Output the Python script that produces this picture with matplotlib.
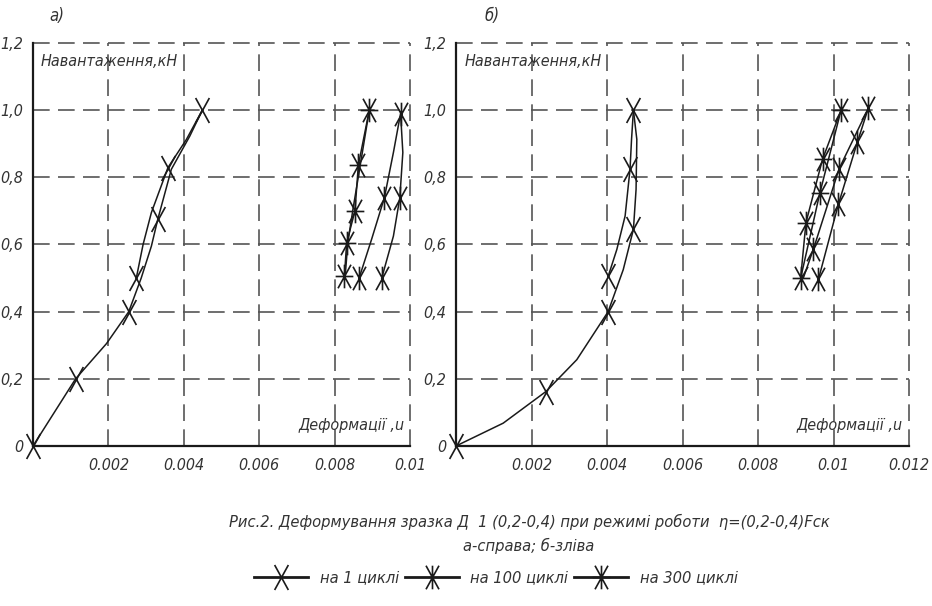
import numpy as np
import matplotlib
matplotlib.use('Agg')
import matplotlib.pyplot as plt
import matplotlib.font_manager as fm
from matplotlib.path import Path

# look for a narrow face (the original uses a condensed CAD font)
narrow = None
for f in fm.fontManager.ttflist:
    if 'Narrow' in f.name or 'Condensed' in f.name or f.stretch in ('condensed', 'semi-condensed'):
        narrow = f
        break
if narrow is not None:
    plt.rcParams['font.family'] = [narrow.name, 'DejaVu Sans']
    if not ('Narrow' in narrow.name or 'Condensed' in narrow.name):
        plt.rcParams['font.stretch'] = 'condensed'
    k = 1.0
else:
    plt.rcParams['font.family'] = ['Roboto', 'DejaVu Sans']
    k = 0.88
plt.rcParams['font.style'] = 'italic'

# Panel a) - справа
a1_load_x = [0, 0.00113, 0.00195, 0.00254, 0.00287, 0.00314, 0.00331, 0.00367, 0.00416, 0.00449]
a1_load_y = [0, 0.2, 0.305, 0.4, 0.5, 0.595, 0.675, 0.824, 0.923, 1.0]
a1_load_marks = [0, 1, 3, 6, 9]
a1_unload_x = [0.00449, 0.00407, 0.00358, 0.00314, 0.00292, 0.00274]
a1_unload_y = [1.0, 0.913, 0.829, 0.695, 0.60, 0.50]
a1_unload_marks = [2, 5]

a100_x = [0.00865, 0.00898, 0.00932, 0.00956, 0.00975, 0.00981, 0.00973, 0.00956, 0.00925]
a100_y = [0.50, 0.615, 0.739, 0.874, 0.99, 0.874, 0.739, 0.625, 0.50]
a100_marks = [0, 2, 4, 6, 8]

a300_load_x = [0.00826, 0.00832, 0.00854, 0.00863, 0.00892]
a300_load_y = [0.505, 0.605, 0.70, 0.836, 1.0]
a300_unload_x = [0.00892, 0.00868, 0.00848, 0.00835, 0.00828]
a300_unload_y = [1.0, 0.836, 0.70, 0.605, 0.505]

# Panel b) - зліва
b1_load_x = [0, 0.00125, 0.00238, 0.0032, 0.00403, 0.00443, 0.0047, 0.00477, 0.00479, 0.0047]
b1_load_y = [0, 0.068, 0.162, 0.257, 0.40, 0.525, 0.645, 0.764, 0.913, 1.0]
b1_load_marks = [0, 2, 4, 6, 9]
b1_unload_x = [0.0047, 0.00465, 0.00461, 0.00448, 0.00426, 0.00403]
b1_unload_y = [1.0, 0.913, 0.824, 0.685, 0.585, 0.505]
b1_unload_marks = [2, 5]

b100_load_x = [0.0096, 0.01013, 0.01063, 0.01092]
b100_load_y = [0.496, 0.72, 0.904, 1.005]
b100_unload_x = [0.01092, 0.01015, 0.00947, 0.0092]
b100_unload_y = [1.005, 0.826, 0.587, 0.5]

b300_load_x = [0.00913, 0.00927, 0.00971, 0.0102]
b300_load_y = [0.5, 0.665, 0.854, 1.0]
b300_unload_x = [0.0102, 0.00964, 0.00913]
b300_unload_y = [1.0, 0.754, 0.5]

y_ticks = [0, 0.2, 0.4, 0.6, 0.8, 1.0, 1.2]
y_labels = ['0', '0,2', '0,4', '0,6', '0,8', '1,0', '1,2']
xa_ticks = [0.002, 0.004, 0.006, 0.008, 0.01]
xa_labels = ['0.002', '0.004', '0.006', '0.008', '0.01']
xb_ticks = [0.002, 0.004, 0.006, 0.008, 0.01, 0.012]
xb_labels = ['0.002', '0.004', '0.006', '0.008', '0.01', '0.012']

legend_labels = ['на 1 циклі', 'на 100 циклі', 'на 300 циклі']

# markers drawn like the CAD symbols
C = Path.MOVETO; L = Path.LINETO
m1 = Path([(-0.55, -1), (0.55, 1), (-0.55, 1), (0.55, -1)], [C, L, C, L])
m100 = Path([(-0.55, -1), (0.55, 1), (-0.55, 1), (0.55, -1), (0, -1), (0, 1)],
            [C, L, C, L, C, L])
m300 = Path([(-0.55, -1), (0.55, 1), (-0.55, 1), (0.55, -1), (0, -1), (0, 1),
             (-0.75, 0), (0.75, 0)], [C, L, C, L, C, L, C, L])

ink = '#1a1a1a'
txt = '#333333'
st = dict(color=ink, lw=1.1, mec=ink, mew=1.2)

fig = plt.figure(figsize=(9.32, 6.06), dpi=100)
H = 606.0; W = 932.0
ax1 = fig.add_axes([33 / W, 1 - 446 / H, (410 - 33) / W, (446 - 43) / H])
ax2 = fig.add_axes([456 / W, 1 - 446 / H, (909 - 456) / W, (446 - 43) / H])


def style(ax, xt, xl, xmax):
    ax.set_xlim(0, xmax)
    ax.set_ylim(0, 1.2)
    ax.set_xticks(xt)
    ax.set_xticklabels(xl)
    ax.set_yticks(y_ticks)
    ax.set_yticklabels(y_labels)
    ax.tick_params(length=0, labelsize=11.5 * k, labelcolor=txt)
    ax.tick_params(axis='x', pad=9)
    ax.tick_params(axis='y', pad=7)
    for s in ['top', 'right']:
        ax.spines[s].set_visible(False)
    for s in ['left', 'bottom']:
        ax.spines[s].set_linewidth(1.6)
        ax.spines[s].set_color(ink)
    ax.grid(True, color='#555555', lw=1.2, linestyle=(0, (10, 5)))
    for gl in ax.get_xgridlines() + ax.get_ygridlines():
        gl.set_clip_on(False)
    ax.set_axisbelow(True)
    ax.text(0.02, 0.955, 'Навантаження,кН', transform=ax.transAxes, fontsize=11.5 * k,
            color=txt, ha='left', va='center')
    ax.text(0.985, 0.05, 'Деформації ,u', transform=ax.transAxes, fontsize=11.5 * k,
            color=txt, ha='right', va='center')


style(ax1, xa_ticks, xa_labels, 0.01)
style(ax2, xb_ticks, xb_labels, 0.012)

# a)
h1, = ax1.plot(a1_load_x, a1_load_y, marker=m1, ms=18, markevery=a1_load_marks, **st)
ax1.plot(a1_unload_x, a1_unload_y, marker=m1, ms=18, markevery=a1_unload_marks, **st)
h100, = ax1.plot(a100_x, a100_y, marker=m100, ms=17, markevery=a100_marks, **st)
h300, = ax1.plot(a300_load_x, a300_load_y, marker=m300, ms=17, **st)
ax1.plot(a300_unload_x, a300_unload_y, **st)

# б)
ax2.plot(b1_load_x, b1_load_y, marker=m1, ms=18, markevery=b1_load_marks, **st)
ax2.plot(b1_unload_x, b1_unload_y, marker=m1, ms=18, markevery=b1_unload_marks, **st)
ax2.plot(b100_load_x, b100_load_y, marker=m100, ms=17, **st)
ax2.plot(b100_unload_x, b100_unload_y, marker=m100, ms=17, markevery=[1, 2], **st)
ax2.plot(b300_load_x, b300_load_y, marker=m300, ms=17, **st)
ax2.plot(b300_unload_x, b300_unload_y, marker=m300, ms=17, markevery=[1], **st)

for ax in (ax1, ax2):
    for ln in ax.get_lines():
        ln.set_clip_on(False)

fig.text(57 / W, 1 - 16 / H, 'а)', fontsize=12 * k, color=txt, ha='center', va='center')
fig.text(492 / W, 1 - 16 / H, 'б)', fontsize=12 * k, color=txt, ha='center', va='center')

fig.text(529 / W, 1 - 522 / H,
         'Рис.2. Деформування зразка Д  1 (0,2-0,4) при режимі роботи  η=(0,2-0,4)Fск',
         fontsize=11.8 * k, color=txt, ha='center', va='center')
fig.text(529 / W, 1 - 546 / H, 'а-справа; б-зліва', fontsize=11.8 * k, color=txt,
         ha='center', va='center')

leg = fig.legend([h1, h100, h300], legend_labels, loc='center', ncol=3,
                 bbox_to_anchor=(496 / W, 1 - 578 / H), frameon=False, fontsize=11.8 * k,
                 handlelength=3.3, handletextpad=0.7, columnspacing=0.35)
for t in leg.get_texts():
    t.set_color(txt)
for lh in leg.legend_handles:
    lh.set_linewidth(2.0)

fig.savefig('out.png', dpi=100, facecolor='white')
